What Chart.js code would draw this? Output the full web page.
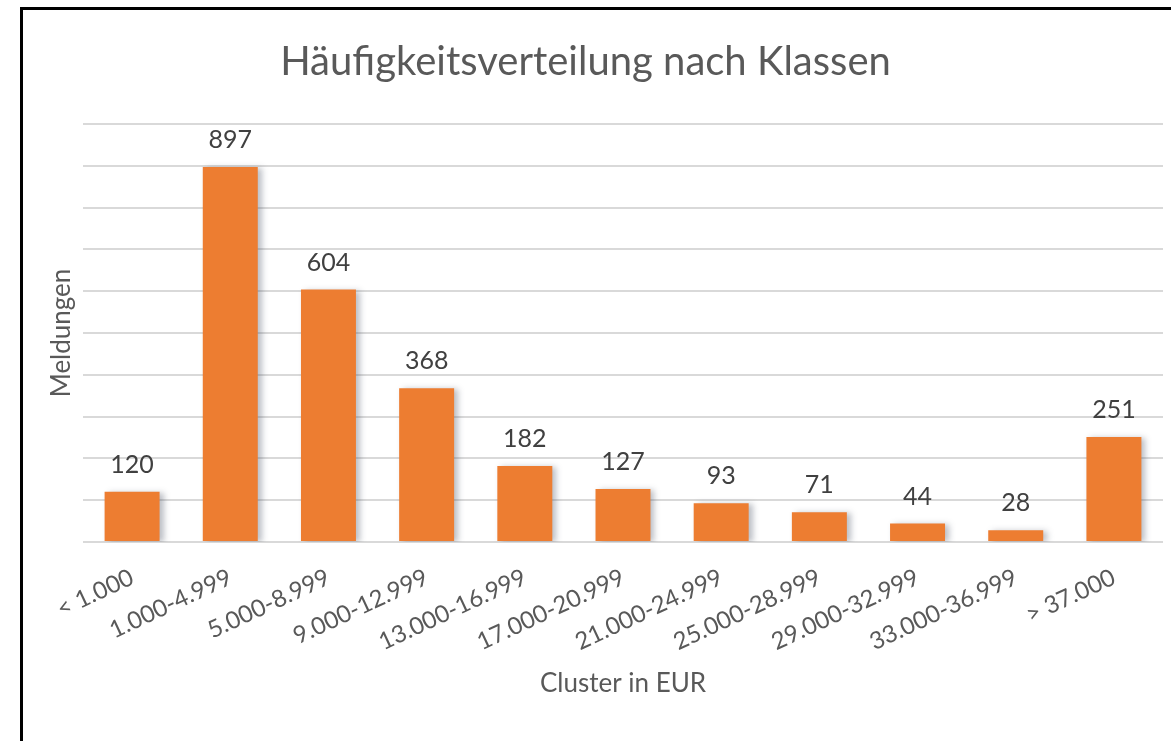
<!DOCTYPE html>
<html>
<head>
<meta charset="utf-8">
<script src="https://cdn.jsdelivr.net/npm/chart.js@4"></script>
<style>
  html, body { margin: 0; padding: 0; background: #fff; }
  #wrap { position: relative; width: 1171px; height: 741px; }
  #frame {
    position: absolute; left: 20px; top: 7px; right: 0; bottom: 0;
    border-left: 3px solid #000; border-top: 3px solid #000;
    pointer-events: none;
  }
</style>
</head>
<body>
<div id="wrap">
  <canvas id="chart" width="1171" height="741"></canvas>
  <div id="frame"></div>
</div>
<script>
const categories = ['< 1.000', '1.000-4.999', '5.000-8.999', '9.000-12.999', '13.000-16.999',
  '17.000-20.999', '21.000-24.999', '25.000-28.999', '29.000-32.999', '33.000-36.999', '> 37.000'];
const meldungen = [120, 897, 604, 368, 182, 127, 93, 71, 44, 28, 251];

const fontFamily = 'Lato, "Open Sans", sans-serif';
const textColor = '#595959';

// value labels above each bar
const valueLabels = {
  id: 'valueLabels',
  afterDatasetsDraw(chart) {
    const ctx = chart.ctx;
    const meta = chart.getDatasetMeta(0);
    ctx.save();
    ctx.font = '25px ' + fontFamily;
    ctx.fillStyle = '#404040';
    ctx.textAlign = 'center';
    ctx.textBaseline = 'alphabetic';
    meta.data.forEach((bar, i) => {
      ctx.fillText(chart.data.datasets[0].data[i], bar.x, bar.y - 19);
    });
    ctx.restore();
  }
};

// soft shadow on the right of the bars, like the Excel original
const barShadow = {
  id: 'barShadow',
  beforeDatasetsDraw(chart) {
    const ctx = chart.ctx;
    ctx.save();
    ctx.shadowColor = 'rgba(60, 70, 90, 0.35)';
    ctx.shadowBlur = 6;
    ctx.shadowOffsetX = 4;
    ctx.shadowOffsetY = 1;
  },
  afterDatasetsDraw(chart) {
    chart.ctx.restore();
  }
};

new Chart(document.getElementById('chart'), {
  type: 'bar',
  data: {
    labels: categories,
    datasets: [{
      label: 'Meldungen',
      data: meldungen,
      backgroundColor: '#ED7D31',
      borderWidth: 0,
      barPercentage: 0.56,
      categoryPercentage: 1.0
    }]
  },
  options: {
    responsive: false,
    animation: false,
    layout: { padding: { left: 8, right: 8, top: 0, bottom: 30 } },
    plugins: {
      legend: { display: false },
      tooltip: { enabled: false },
      title: {
        display: true,
        text: 'Häufigkeitsverteilung nach Klassen',
        color: textColor,
        font: { family: fontFamily, size: 40, weight: 'normal' },
        padding: { top: 38, bottom: 38 }
      }
    },
    scales: {
      x: {
        grid: { display: false },
        border: { display: false },
        ticks: {
          color: textColor,
          font: { family: fontFamily, size: 24 },
          minRotation: 25,
          maxRotation: 25,
          padding: 13
        },
        title: {
          display: true,
          text: 'Cluster in EUR',
          color: textColor,
          font: { family: fontFamily, size: 26 },
          padding: { top: 4, bottom: 12 }
        },
        afterFit(scale) { scale.height = 169; }
      },
      y: {
        min: 0,
        max: 1000,
        grid: { color: '#d9d9d9', lineWidth: 2, drawTicks: false },
        border: { display: false },
        ticks: { display: false, stepSize: 100 },
        title: {
          display: true,
          text: 'Meldungen',
          color: textColor,
          font: { family: fontFamily, size: 26 },
          padding: { top: 38, bottom: 0 }
        },
        afterFit(scale) { scale.width = 75; }
      }
    }
  },
  plugins: [barShadow, valueLabels]
});
</script>
</body>
</html>
